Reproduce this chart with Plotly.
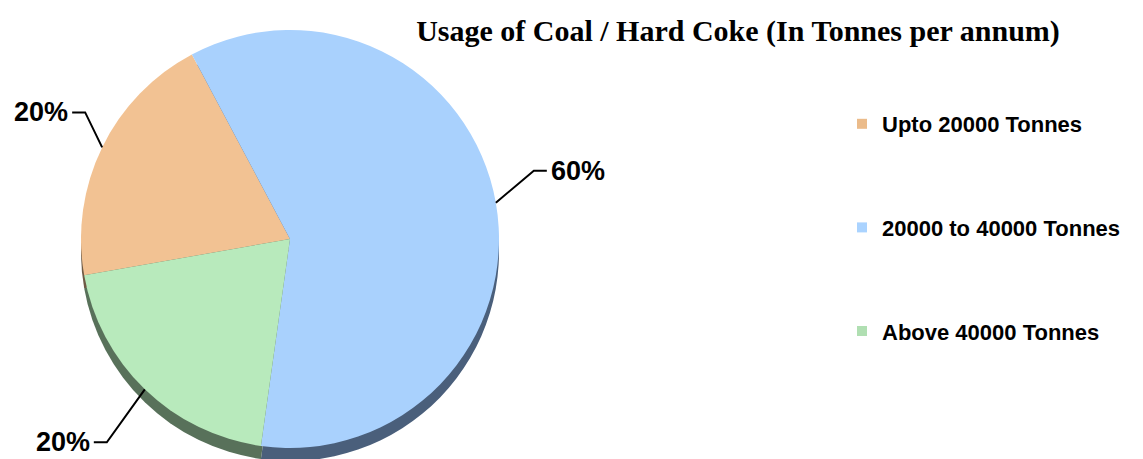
import math
import plotly.graph_objects as go

# ---- data ----
categories = ["Upto 20000 Tonnes", "20000 to 40000 Tonnes", "Above 40000 Tonnes"]
shares = [20, 60, 20]
title_text = "Usage of Coal / Hard Coke (In Tonnes per annum)"

# ---- style ----
OFF = 8                      # page body margin of the browser
W, H = 1143 - OFF, 475       # figure a little taller than the window; bottom is cropped
face_colors = ["#F2C293", "#A9D1FD", "#B8EABC"]
rim_colors = ["#6E5A45", "#4A5F7B", "#58715A"]
legend_colors = ["#EBBB8A", "#AAD3FF", "#B0DFB2"]
CX, CY, R = 290, 239, 209          # pie centre / radius in screen pixels
RIM_R = 209
RIM_CY = CY + 13
ROTATION = -100
# leader-line elbow offsets (px) and horizontal tail length per label
elbow_off = [(-17, -35), (38, -32), (-38, 53)]
tail = 13


def px2paper(x, y):
    return (x - OFF) / W, 1 - (y - OFF) / H


def dom(cx, cy, r):
    x0, y1 = px2paper(cx - r, cy - r)
    x1, y0 = px2paper(cx + r, cy + r)
    return dict(x=[max(0, x0), min(1, x1)], y=[max(0, y0), min(1, y1)])


fig = go.Figure()

# rim (3D edge) drawn first, slightly lower
fig.add_trace(go.Pie(
    labels=categories, values=shares, sort=False, direction="clockwise",
    rotation=ROTATION, marker=dict(colors=rim_colors, line=dict(width=0)), textinfo="none",
    hoverinfo="skip", showlegend=False, domain=dom(CX, RIM_CY, RIM_R),
))

fig.add_trace(go.Pie(
    labels=categories, values=shares, sort=False, direction="clockwise",
    rotation=ROTATION, marker=dict(colors=face_colors, line=dict(width=0)), textinfo="none",
    showlegend=False, domain=dom(CX, CY, R),
))

# legend entries
for cat, col in zip(categories, legend_colors):
    fig.add_trace(go.Scatter(
        x=[None], y=[None], mode="markers", name=cat, legendgroup=cat,
        marker=dict(symbol="square", size=10, color=col),
    ))

# labels with leader lines, computed from values
total = sum(shares)
start = ROTATION
shapes, annotations = [], []
for i, v in enumerate(shares):
    span = 360 * v / total
    mid = math.radians(start + span / 2)
    start += span
    ex = CX + R * math.sin(mid)
    ey = CY - R * math.cos(mid)
    bx, by = ex + elbow_off[i][0], ey + elbow_off[i][1]
    side = 1 if math.sin(mid) > 0 else -1
    tx = bx + side * tail
    p = [px2paper(ex, ey), px2paper(bx, by), px2paper(tx, by)]
    path = "M {} {} L {} {} L {} {}".format(p[0][0], p[0][1], p[1][0], p[1][1], p[2][0], p[2][1])
    shapes.append(dict(type="path", path=path, xref="paper", yref="paper",
                       line=dict(color="black", width=2)))
    ax, ay = px2paper(tx + side * 2, by)
    annotations.append(dict(
        x=ax, y=ay, xref="paper", yref="paper", showarrow=False,
        text=f"{v / total * 100:.0f}%", xanchor="left" if side > 0 else "right",
        yanchor="middle",
        font=dict(family="Liberation Sans", size=27, color="black", weight="bold"),
    ))

tx_, ty_ = px2paper(738, 30)
lx_, ly_ = px2paper(842, 103)
fig.update_layout(
    width=W, height=H,
    margin=dict(l=0, r=0, t=0, b=0),
    paper_bgcolor="white", plot_bgcolor="white",
    title=dict(text=title_text, x=tx_, xanchor="center", y=ty_, yanchor="middle",
               font=dict(family="Liberation Serif", size=30, color="black", weight="bold")),
    xaxis=dict(visible=False), yaxis=dict(visible=False),
    legend=dict(x=lx_, xanchor="left", y=ly_, yanchor="top",
                tracegroupgap=72,
                font=dict(family="Liberation Sans", size=22, color="black", weight="bold"),
                bgcolor="rgba(0,0,0,0)"),
    shapes=shapes, annotations=annotations,
)

fig.write_html("out.html")
